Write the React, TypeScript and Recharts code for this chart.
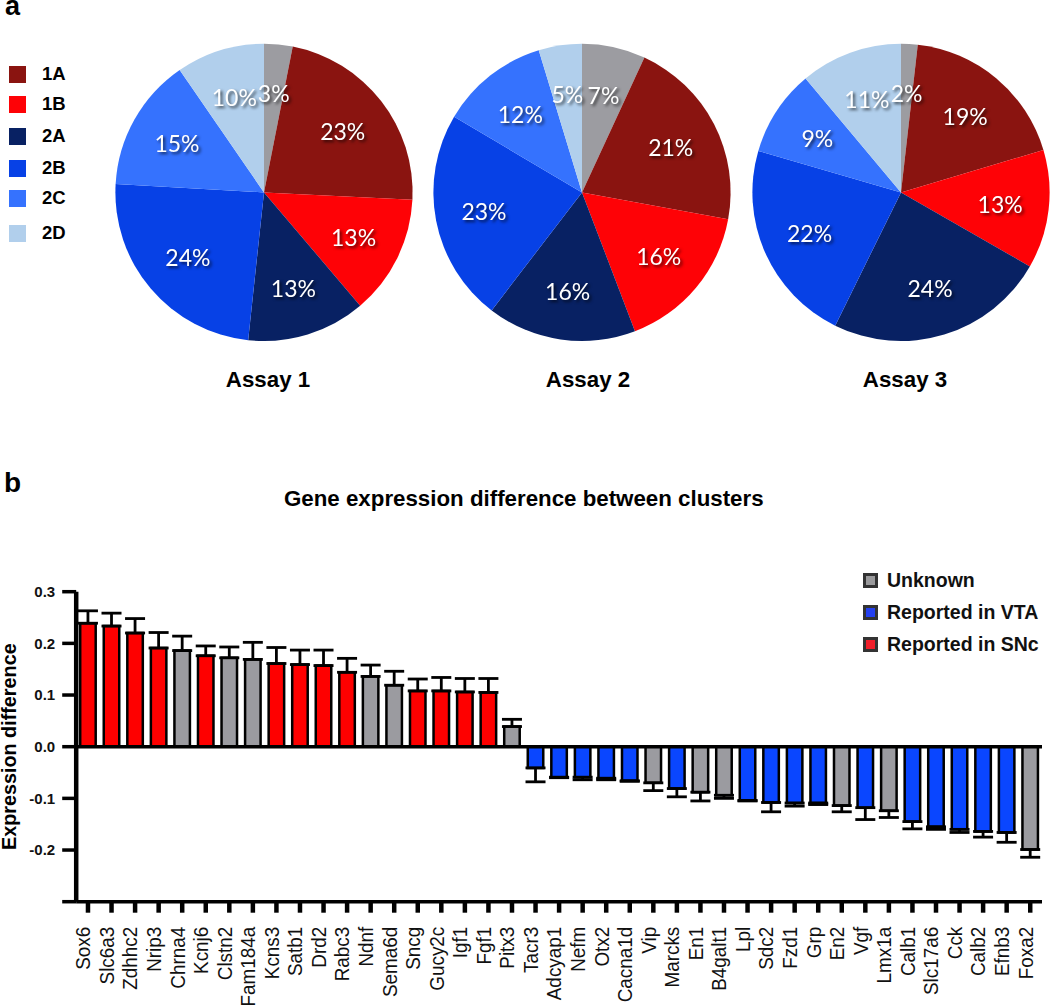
import { Bar, BarChart, Cell, ErrorBar, Label, Pie, PieChart, ReferenceLine, XAxis, YAxis } from "recharts";

const clusters = ["Other", "1A", "1B", "2A", "2B", "2C", "2D"];
const clusterColors = ["#9c9ca1", "#8a1410", "#fe0206", "#082163", "#0741e6", "#3572fe", "#b1cfec"];
const assay1 = [3.1, 22.7, 13.0, 12.9, 24.2, 14.5, 9.6];
const assay2 = [6.9, 21.0, 16.3, 16.2, 23.1, 11.8, 4.7];
const assay3 = [1.8, 18.6, 12.9, 24.0, 22.2, 9.4, 11.1];

const genes = [
  "Sox6", "Slc6a3", "Zdhhc2", "Nrip3", "Chrna4", "Kcnj6", "Clstn2", "Fam184a", "Kcns3", "Satb1", "Drd2",
  "Rabc3", "Ndnf", "Sema6d", "Sncg", "Gucy2c", "Igf1", "Fgf1", "Pitx3", "Tacr3", "Adcyap1", "Nefm", "Otx2",
  "Cacna1d", "Vip", "Marcks", "En1", "B4galt1", "Lpl", "Sdc2", "Fzd1", "Grp", "En2", "Vgf", "Lmx1a", "Calb1",
  "Slc17a6", "Cck", "Calb2", "Efnb3", "Foxa2",
];
const diffs = [
  0.239, 0.2335, 0.22, 0.191, 0.186, 0.176, 0.172, 0.169, 0.161, 0.159, 0.157, 0.144, 0.136, 0.119, 0.108, 0.108,
  0.106, 0.105, 0.039, -0.041, -0.059, -0.059, -0.061, -0.066, -0.07, -0.081, -0.088, -0.094, -0.104, -0.108,
  -0.109, -0.109, -0.114, -0.118, -0.124, -0.145, -0.155, -0.16, -0.164, -0.166, -0.199,
];
const errors = [
  0.024, 0.025, 0.028, 0.03, 0.028, 0.019, 0.021, 0.033, 0.031, 0.028, 0.03, 0.027, 0.022, 0.027, 0.023, 0.026,
  0.026, 0.027, 0.014, 0.027, 0.001, 0.005, 0.003, 0.001, 0.015, 0.016, 0.017, 0.006, 0.001, 0.018, 0.006, 0.003,
  0.012, 0.023, 0.013, 0.014, 0.005, 0.006, 0.011, 0.019, 0.015,
];
// U unknown, V reported in VTA, S reported in SNc
const groups = "SSSSUSUUSSSSUUSSSSUVVVVVUVUUVVVVUVUVVVVVU".split("");
const groupColors: Record<string, string> = { U: "#9b9ba0", V: "#0a46ff", S: "#fe0000" };
const yTicks = [0.3, 0.2, 0.1, 0, -0.1, -0.2, -0.3];

const barLegend = [
  { name: "Unknown", color: "#9a9a9c" },
  { name: "Reported in VTA", color: "#2440f0" },
  { name: "Reported in SNc", color: "#f01f2a" },
];

const rows = genes.map((gene, i) => ({
  gene,
  diff: diffs[i],
  err: diffs[i] > 0 ? [0, errors[i]] : [errors[i], 0],
  group: groups[i],
}));

const pies = [
  { title: "Assay 1", values: assay1, cx: 264, titleX: 268 },
  { title: "Assay 2", values: assay2, cx: 582, titleX: 588 },
  { title: "Assay 3", values: assay3, cx: 901, titleX: 905 },
];

const arial = "'Liberation Sans', Arial, sans-serif";
const pieCy = 192.4;
const pieRadius = 148.6;

function pieLabel(props: any) {
  const { cx, cy, midAngle, outerRadius, percent } = props;
  const r = outerRadius * 0.672;
  const a = (-midAngle * Math.PI) / 180;
  return (
    <text
      x={cx + r * Math.cos(a)}
      y={cy + r * Math.sin(a)}
      fill="#fff"
      textAnchor="middle"
      dominantBaseline="central"
      style={{ fontFamily: "Lato", fontSize: 23, filter: "drop-shadow(2px 2px 1.5px rgba(0,0,0,0.65))" }}
    >
      {Math.round(percent * 100)}%
    </text>
  );
}

// the gene names are squeezed along their length in the reference
function GeneTick(props: any) {
  const { x, y, payload } = props;
  return (
    <text
      fill="#111"
      textAnchor="end"
      dominantBaseline="central"
      transform={`translate(${x - 5} ${y}) rotate(-90) scale(0.9 1)`}
      style={{ fontFamily: arial, fontSize: 21 }}
    >
      {payload.value}
    </text>
  );
}

function place(left: number, top: number, extra: React.CSSProperties = {}): React.CSSProperties {
  return { position: "absolute", left, top, fontFamily: arial, fontWeight: 700, color: "#000", whiteSpace: "nowrap", lineHeight: 1, ...extra };
}

const legendTops = [66, 96, 128, 160, 190, 225];
const barLegendTops = [573, 605, 637];

export default function App() {
  return (
    <div style={{ position: "relative", width: 1050, height: 1007, background: "#fff", overflow: "hidden" }}>
      <style>{"body{margin:0}"}</style>
      <PieChart width={1050} height={400} margin={{ top: 0, right: 0, bottom: 0, left: 0 }} style={{ position: "absolute", left: 0, top: 0 }}>
        {pies.map((p) => (
          <Pie
            key={p.title}
            data={p.values.map((value, i) => ({ name: clusters[i], value }))}
            dataKey="value"
            nameKey="name"
            cx={p.cx}
            cy={pieCy}
            outerRadius={pieRadius}
            startAngle={90}
            endAngle={-270}
            stroke="none"
            label={pieLabel}
            labelLine={false}
            isAnimationActive={false}
          >
            {p.values.map((_, i) => (
              <Cell key={i} fill={clusterColors[i]} />
            ))}
          </Pie>
        ))}
      </PieChart>

      <div style={place(5, 2, { fontSize: 27, lineHeight: "9px" })}>a</div>
      {clusters.slice(1).map((name, i) => (
        <div key={name}>
          <div style={{ position: "absolute", left: 9, top: legendTops[i], width: 17, height: 17, background: clusterColors[i + 1] }} />
          <div style={place(42, legendTops[i] - 1, { fontSize: 18.5 })}>{name}</div>
        </div>
      ))}
      {pies.map((p) => (
        <div key={p.title} style={place(p.titleX - 60, 369, { width: 120, textAlign: "center", fontSize: 22.3 })}>
          {p.title}
        </div>
      ))}

      <div style={place(4, 469, { fontSize: 28 })}>b</div>
      <div style={place(284, 488, { fontSize: 22.3 })}>Gene expression difference between clusters</div>

      <BarChart
        width={1050}
        height={447}
        data={rows}
        margin={{ top: 31.7, right: 8, bottom: 0, left: 0 }}
        style={{ position: "absolute", left: 0, top: 560 }}
      >
        <XAxis
          dataKey="gene"
          interval={0}
          height={105.3}
          tick={GeneTick}
          tickSize={11}
          tickMargin={14}
          tickLine={{ stroke: "#000", strokeWidth: 4.5 }}
          axisLine={{ stroke: "#000", strokeWidth: 3.5 }}
        />
        <YAxis
          type="number"
          domain={[-0.3, 0.3]}
          ticks={yTicks}
          interval={0}
          width={76.2}
          tickSize={14}
          tickMargin={7}
          tickFormatter={(v: number) => (v === -0.3 ? "" : v.toFixed(1))}
          tick={{ fill: "#111", fontFamily: arial, fontWeight: 700, fontSize: 15 }}
          tickLine={{ stroke: "#000", strokeWidth: 3.5 }}
          axisLine={{ stroke: "#000", strokeWidth: 4.5 }}
        >
          <Label
            value="Expression difference"
            angle={-90}
            position="insideLeft"
            offset={9}
            style={{ fill: "#000", fontFamily: arial, fontWeight: 700, fontSize: 19.8, textAnchor: "middle" }}
          />
        </YAxis>
        <Bar dataKey="diff" barSize={15.5} stroke="#000" strokeWidth={2.5} isAnimationActive={false}>
          {rows.map((r) => (
            <Cell key={r.gene} fill={groupColors[r.group]} />
          ))}
          <ErrorBar dataKey="err" direction="y" width={10} stroke="#000" strokeWidth={2.8} isAnimationActive={false} />
        </Bar>
        <ReferenceLine y={0} stroke="#000" strokeWidth={3.5} />
      </BarChart>

      {barLegend.map((item, i) => (
        <div key={item.name}>
          <div
            style={{
              position: "absolute",
              left: 863,
              top: barLegendTops[i],
              width: 15,
              height: 15,
              boxSizing: "border-box",
              background: item.color,
              border: "3px solid #333",
            }}
          />
          <div style={place(887, barLegendTops[i] - 2.5, { fontSize: 19.5, color: "#111" })}>{item.name}</div>
        </div>
      ))}
    </div>
  );
}
